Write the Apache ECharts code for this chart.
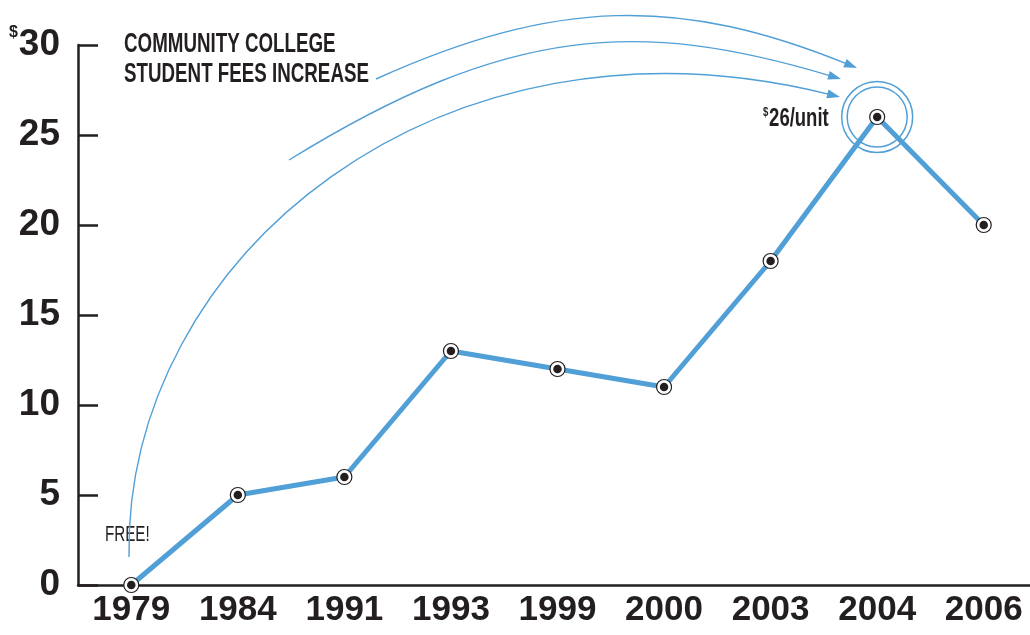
<!DOCTYPE html>
<html>
<head>
<meta charset="utf-8">
<script src="https://cdn.jsdelivr.net/npm/echarts@6/dist/echarts.min.js"></script>
<style>
  html, body { margin: 0; padding: 0; background: #ffffff; }
  #chart { width: 1030px; height: 635px; }
</style>
</head>
<body>
<div id="chart"></div>
<script>
// data
const years = ['1979', '1984', '1991', '1993', '1999', '2000', '2003', '2004', '2006'];
const fees = [0, 5, 6, 13, 12, 11, 18, 26, 20];
const yTicks = [0, 5, 10, 15, 20, 25, 30];

const FONT = '"Liberation Sans", Arial, sans-serif';
const INK = '#231f20';
const BLUE = '#519fd7';

const chart = echarts.init(document.getElementById('chart'));

// curved arrow = bezier + little triangle at the end
const arrow = (p0, p1, p2, p3) => {
  const dx = p3[0] - p2[0], dy = p3[1] - p2[1];
  const len = Math.sqrt(dx * dx + dy * dy);
  const ux = dx / len, uy = dy / len;
  const L = 13, W = 4.5;
  const bx = p3[0] - ux * L, by = p3[1] - uy * L;
  return [
    {
      type: 'bezierCurve',
      shape: { x1: p0[0], y1: p0[1], cpx1: p1[0], cpy1: p1[1], cpx2: p2[0], cpy2: p2[1], x2: bx + ux * 2, y2: by + uy * 2 },
      style: { stroke: BLUE, lineWidth: 1.4, fill: null },
      silent: true
    },
    {
      type: 'polygon',
      shape: { points: [p3, [bx - uy * W, by + ux * W], [bx + uy * W, by - ux * W]] },
      style: { fill: BLUE },
      silent: true
    }
  ];
};

// condensed-looking text (squeezed horizontally)
const label = (x, y, sx, style) => ({
  type: 'text', x: x, y: y, scaleX: sx, silent: true,
  style: Object.assign({ fill: INK, verticalAlign: 'middle' }, style)
});

chart.setOption({
  animation: false,
  grid: { left: 78, top: 45, right: -7, height: 540, outerBoundsMode: 'none' },
  xAxis: {
    type: 'category',
    data: years,
    boundaryGap: true,
    axisLine: { lineStyle: { color: INK, width: 2.5 } },
    axisTick: { inside: true, length: 13, lineStyle: { color: INK, width: 2.5 } },
    axisLabel: {
      interval: 0,
      color: INK, fontFamily: FONT, fontWeight: 'bold', fontSize: 35, margin: 8
    },
    splitLine: { show: false }
  },
  yAxis: {
    type: 'value',
    min: 0,
    max: 30,
    interval: 5,
    axisLine: { show: true, lineStyle: { color: INK, width: 2.5 } },
    axisTick: { show: true, inside: true, length: 20, lineStyle: { color: INK, width: 2.5 } },
    splitLine: { show: false },
    axisLabel: {
      margin: 18,
      formatter: (v) => v === yTicks[yTicks.length - 1] ? '{s|$}{b|' + v + '}' : '{b|' + v + '}',
      rich: {
        b: { color: INK, fontFamily: FONT, fontWeight: 'bold', fontSize: 37, lineHeight: 40 },
        s: { color: INK, fontFamily: FONT, fontWeight: 'bold', fontSize: 16, lineHeight: 40, verticalAlign: 'top', padding: [0, 1, 14, 0] }
      }
    }
  },
  series: [
    {
      type: 'line',
      data: fees,
      symbol: 'circle',
      symbolSize: 15,
      lineStyle: { color: BLUE, width: 5 },
      itemStyle: { color: '#ffffff', borderColor: INK, borderWidth: 1.2 },
      z: 2
    },
    {
      type: 'scatter',
      data: fees,
      symbolSize: 8.5,
      itemStyle: { color: INK, opacity: 1 },
      z: 3
    }
  ]
});

// circles round the 2004 peak
const peak = chart.convertToPixel({ seriesIndex: 0 }, [years.indexOf('2004'), fees[years.indexOf('2004')]]);

chart.setOption({
  graphic: [
    label(124, 44, 0.67, { text: 'COMMUNITY COLLEGE', font: 'bold 28px ' + FONT }),
    label(124, 74, 0.67, { text: 'STUDENT FEES INCREASE', font: 'bold 28px ' + FONT }),
    label(105, 535, 0.69, { text: 'FREE!', font: '22px ' + FONT }),
    label(763, 119, 0.74, {
      text: '{s|$}{b|26/unit}',
      rich: {
        b: { fontFamily: FONT, fontWeight: 'bold', fontSize: 25, fill: INK, lineHeight: 26 },
        s: { fontFamily: FONT, fontWeight: 'bold', fontSize: 13, fill: INK, lineHeight: 26, verticalAlign: 'top', padding: [0, 1, 8, 0] }
      }
    }),
    {
      type: 'circle',
      shape: { cx: peak[0], cy: peak[1], r: 30 },
      style: { stroke: BLUE, lineWidth: 1.5, fill: null },
      silent: true
    },
    {
      type: 'circle',
      shape: { cx: peak[0], cy: peak[1], r: 35.5 },
      style: { stroke: BLUE, lineWidth: 1.5, fill: null },
      silent: true
    }
  ]
    .concat(arrow([376, 79], [556, -2], [680, -4], [857, 68]))
    .concat(arrow([289, 160], [509, 24], [641, 19], [841, 79]))
    .concat(arrow([129, 557], [124, 257], [440, -3], [840, 97]))
});

window.addEventListener('resize', () => chart.resize());
</script>
</body>
</html>
